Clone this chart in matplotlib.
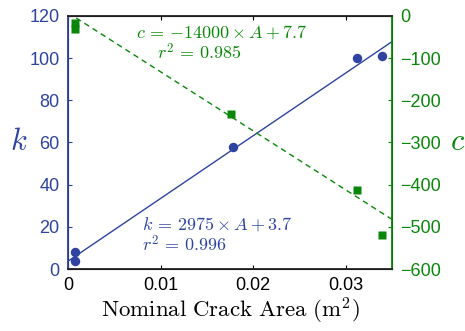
import numpy as np
import matplotlib.pyplot as plt

plt.rcParams['mathtext.fontset'] = 'cm'
plt.rcParams['font.family'] = ['Liberation Sans', 'DejaVu Sans']

blue = '#2f43a0'
green = '#0a870a'

# measured stiffness k and coefficient c against nominal crack area
area_k = [0.00075, 0.00075, 0.0178, 0.0312, 0.0339]
k_vals = [8.0, 4.0, 58.0, 100.0, 101.0]
area_c = [0.00075, 0.00075, 0.0176, 0.0312, 0.0339]
c_vals = [-17.0, -31.0, -232.0, -413.0, -519.0]

# linear fits
k_slope, k_icpt = 2975, 3.7
c_slope, c_icpt = -14000, 7.7

fig = plt.figure(figsize=(4.65, 3.31), dpi=100)
ax = fig.add_axes([0.1462, 0.1873, 0.6968, 0.7644])
ax2 = ax.twinx()

xx = np.array([0, 0.035])
ax.plot(xx, k_slope * xx + k_icpt, color=blue, lw=1)
ax.plot(area_k, k_vals, 'o', color=blue, ms=6.8, mec='none')
ax2.plot(xx, c_slope * xx + c_icpt, color=green, lw=1, ls=(0, (4, 3)))
ax2.plot(area_c, c_vals, 's', color=green, ms=6, mec='none')

ax.set_xlim(0, 0.035)
ax.set_ylim(0, 120)
ax2.set_ylim(-600, 0)
ax.set_xticks([0, 0.01, 0.02, 0.03])
ax.set_xticklabels(['0', '0.01', '0.02', '0.03'])
ax.set_yticks(range(0, 121, 20))
ax2.set_yticks(range(-600, 1, 100))

ax.tick_params(axis='x', direction='in', top=True, labelsize=13, length=3, pad=6)
ax.tick_params(axis='y', direction='in', colors=blue, labelsize=13, length=3, pad=6)
ax2.tick_params(axis='y', direction='in', colors=green, labelsize=13, length=3, pad=6)

ax2.spines['left'].set_color(blue)
ax2.spines['right'].set_color(green)
for s in ('left', 'right'):
    ax2.spines[s].set_linewidth(1.3)
for s in ('top', 'bottom'):
    ax2.spines[s].set_color('#222222')
    ax2.spines[s].set_linewidth(1.3)

ax.set_xlabel(r'$\mathrm{Nominal\ Crack\ Area\ (m^2)}$', fontsize=16.5, labelpad=1)
ax.set_ylabel(r'$k$', fontsize=22, color=blue, rotation=0, labelpad=8, va='center')
ax2.set_ylabel(r'$c$', fontsize=22, color=green, rotation=0, labelpad=12, va='center')

ax.text(0.0073, 112, r'$c\, =\, {-}14000 \times A + 7.7$', color=green, fontsize=13, va='center')
ax.text(0.0096, 102.3, r'$r^2\, =\, 0.985$', color=green, fontsize=13, va='center')
ax.text(0.0080, 21, r'$k\, =\, 2975 \times A + 3.7$', color=blue, fontsize=13, va='center')
ax.text(0.0080, 11.3, r'$r^2\, =\, 0.996$', color=blue, fontsize=13, va='center')

fig.savefig('out.png', dpi=100)
